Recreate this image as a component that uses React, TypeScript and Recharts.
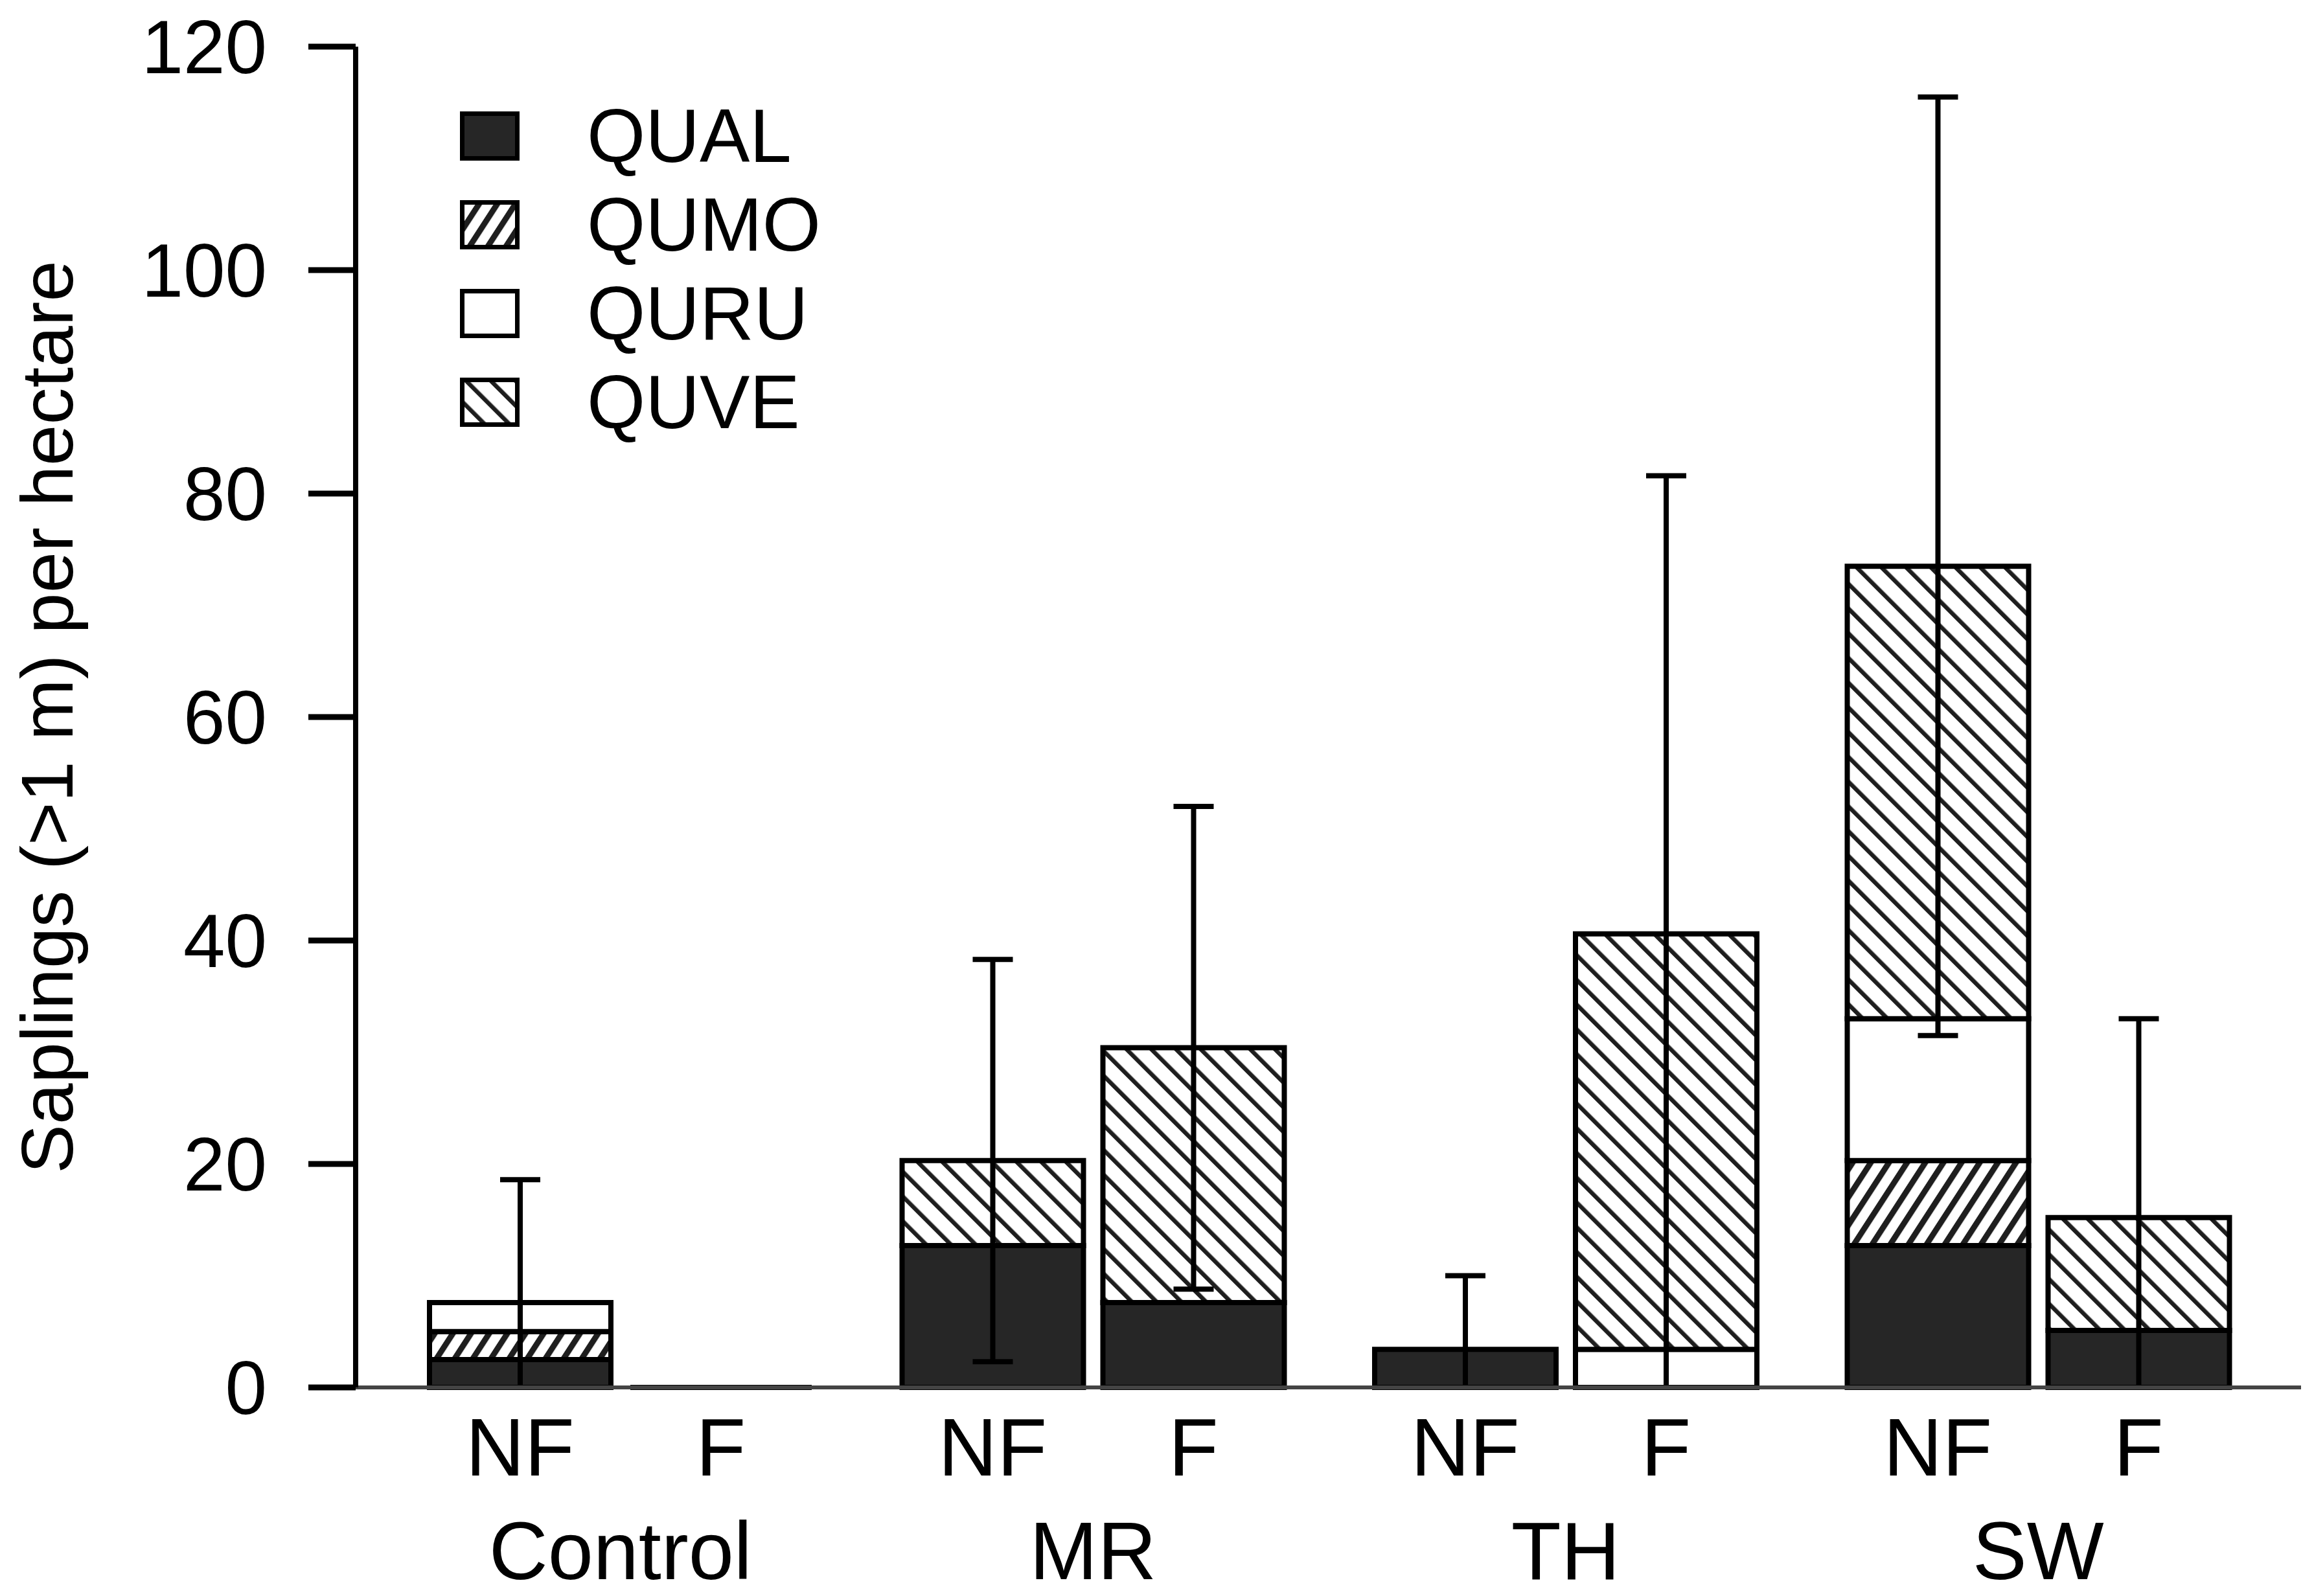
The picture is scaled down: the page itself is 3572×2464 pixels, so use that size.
import React from 'react';
import { BarChart, Bar, XAxis, YAxis, ErrorBar, Legend, Label } from 'recharts';

const FONT = '"Liberation Sans", Arial, sans-serif';

// sites and treatments
const groups = ['Control', 'MR', 'TH', 'SW'];
const treatments = ['NF', 'F'];
const species = ['QUAL', 'QUMO', 'QURU', 'QUVE'];

// saplings per hectare, one array per species x treatment
const qualNF = [2.5, 12.7, 3.4, 12.7];
const qualF = [0, 7.6, 0, 5.1];
const qumoNF = [2.5, 0, 0, 7.6];
const qumoF = [0, 0, 0, 0];
const quruNF = [2.6, 0, 0, 12.7];
const quruF = [0, 0, 3.4, 0];
const quveNF = [0, 7.6, 0, 40.5];
const quveF = [0, 22.8, 37.2, 10.1];

// error on the stack total
const errNF = [11, 18, 6.6, 42];
const errF = [0, 21.6, 41, 17.8];

const yTicks = [0, 20, 40, 60, 80, 100, 120];

const BAR_SIZE = 280;
const BAR_GAP = 30;

const fills: Record<string, string> = {
  QUAL: '#262626',
  QUMO: 'url(#hatchQUMO)',
  QURU: '#ffffff',
  QUVE: 'url(#hatchQUVE)',
};

const data = groups.map((g, i) => {
  const totNF = qualNF[i] + qumoNF[i] + quruNF[i] + quveNF[i];
  const totF = qualF[i] + qumoF[i] + quruF[i] + quveF[i];
  return {
    group: g,
    NF_QUAL: qualNF[i],
    NF_QUMO: qumoNF[i],
    NF_QURU: quruNF[i],
    NF_QUVE: quveNF[i],
    F_QUAL: qualF[i],
    F_QUMO: qumoF[i],
    F_QURU: quruF[i],
    F_QUVE: quveF[i],
    // lower arm stops at the axis
    errNF: [Math.min(errNF[i], totNF), errNF[i]],
    errF: [Math.min(errF[i], totF), errF[i]],
  };
});

// the bottom segment is drawn even when empty, so a zero stack still shows as a line
const makeShape = (alwaysDraw: boolean) => (p: any) => {
  const { x, y, width, height, fill } = p;
  if (!(height > 0) && !alwaysDraw) return null;
  const h = height > 0 ? height : 0;
  return <path d={`M${x},${y}h${width}v${h}h${-width}Z`} fill={fill} stroke="#000" strokeWidth={8} />;
};

const GroupTick = (props: any) => {
  const { x, y, payload } = props;
  const half = (BAR_SIZE + BAR_GAP) / 2;
  return (
    <g>
      {treatments.map((t, i) => (
        <text
          key={t}
          x={x + (i === 0 ? -half : half)}
          y={y + 136}
          textAnchor="middle"
          fontSize={126}
          fontFamily={FONT}
          fill="#000"
        >
          {t}
        </text>
      ))}
      <text x={x} y={y + 296} textAnchor="middle" fontSize={126} fontFamily={FONT} fill="#000">
        {payload.value}
      </text>
    </g>
  );
};

const YLabel = (props: any) => {
  const { viewBox } = props;
  const x = viewBox.x + 104;
  const y = viewBox.y + viewBox.height / 2;
  return (
    <text
      x={x}
      y={y}
      transform={`rotate(-90, ${x}, ${y})`}
      textAnchor="middle"
      fontSize={114}
      fontFamily={FONT}
      fill="#000"
    >
      Saplings (&gt;1 m) per hectare
    </text>
  );
};

const LegendContent = () => (
  <div style={{ fontFamily: FONT }}>
    {species.map((s) => (
      <div key={s} style={{ display: 'flex', alignItems: 'center', height: 137 }}>
        <svg width={92} height={76}>
          <rect x={3.5} y={3.5} width={85} height={69} fill={fills[s]} stroke="#000" strokeWidth={7} />
        </svg>
        <span style={{ marginLeft: 104, fontSize: 116, lineHeight: 1, color: '#000' }}>{s}</span>
      </div>
    ))}
  </div>
);

export default function App() {
  return (
    <div style={{ background: '#fff' }}>
      <BarChart
        width={3556}
        height={2456}
        data={data}
        margin={{ top: 64, right: 12, left: 0, bottom: 0 }}
        barSize={BAR_SIZE}
        barGap={BAR_GAP}
      >
        <defs>
          <pattern id="hatchQUMO" patternUnits="userSpaceOnUse" width={23.5} height={23.5} patternTransform="rotate(33)">
            <rect width={23.5} height={23.5} fill="#fff" />
            <rect width={9} height={23.5} fill="#1e1e1e" />
          </pattern>
          <pattern id="hatchQUVE" patternUnits="userSpaceOnUse" width={27} height={27} patternTransform="rotate(-45)">
            <rect width={27} height={27} fill="#fff" />
            <rect width={6.5} height={27} fill="#1e1e1e" />
          </pattern>
        </defs>
        <XAxis
          dataKey="group"
          type="category"
          interval={0}
          padding={{ left: 44, right: 41 }}
          axisLine={{ stroke: '#444', strokeWidth: 6 }}
          tickLine={false}
          tickSize={0}
          tickMargin={0}
          height={322}
          tick={<GroupTick />}
        />
        <YAxis
          type="number"
          domain={[0, 120]}
          ticks={yTicks}
          interval={0}
          width={541}
          tickSize={73}
          tickMargin={64}
          axisLine={{ stroke: '#000', strokeWidth: 8 }}
          tickLine={{ stroke: '#000', strokeWidth: 9 }}
          tick={{ fill: '#000', fontSize: 116, fontFamily: FONT }}
        >
          <Label content={<YLabel />} />
        </YAxis>
        <Legend
          layout="vertical"
          align="center"
          verticalAlign="middle"
          wrapperStyle={{ left: 702, top: 133, width: 700 }}
          content={<LegendContent />}
        />
        {treatments.map((t) =>
          species.map((s) => (
            <Bar
              key={`${t}_${s}`}
              dataKey={`${t}_${s}`}
              stackId={t}
              fill={fills[s]}
              stroke="#000"
              strokeWidth={8}
              shape={makeShape(s === 'QUAL')}
              isAnimationActive={false}
            >
              {s === 'QUVE' && (
                <ErrorBar dataKey={`err${t}`} direction="y" width={31} strokeWidth={8} stroke="#000" />
              )}
            </Bar>
          ))
        )}
      </BarChart>
    </div>
  );
}
